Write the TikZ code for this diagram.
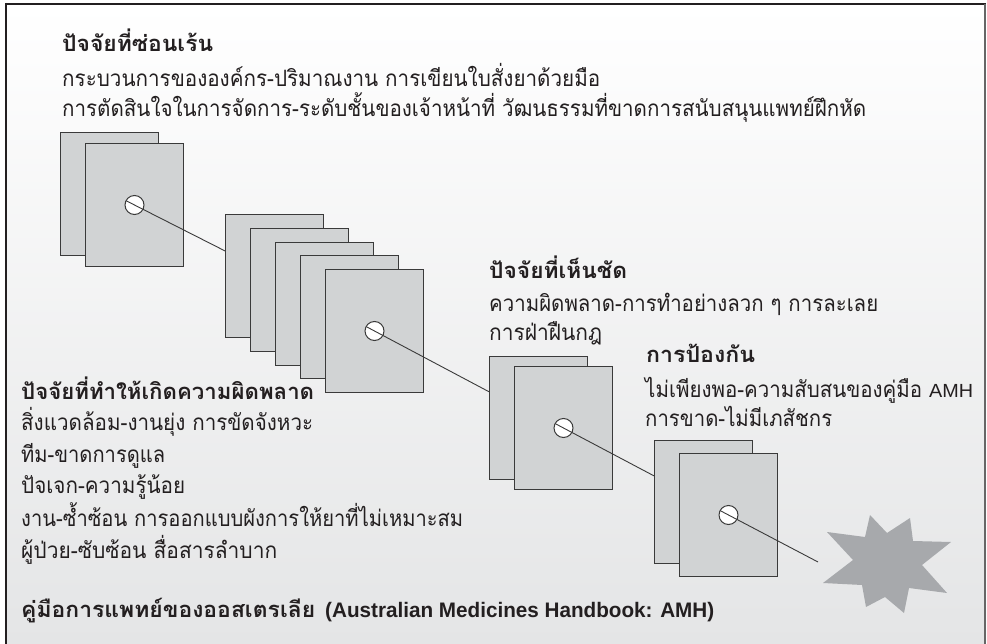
\documentclass[tikz,border=0pt]{standalone}
\usepackage{fontspec}
\usepackage{graphicx}
\setmainfont{Liberation Sans}
\newfontfamily\thai[Script=Thai]{Loma}
\usetikzlibrary{calc}
\definecolor{slicefill}{HTML}{D1D3D4}
\definecolor{sliceline}{HTML}{3A3A3A}
\definecolor{txt}{HTML}{231F20}
\definecolor{starfill}{HTML}{A7A9AC}
\definecolor{bgbottom}{HTML}{E4E5E6}
\newcommand{\fitw}[2]{\resizebox{#1pt}{\height}{#2}}
\tikzset{
  slice/.style={draw=sliceline, fill=slicefill, line width=1pt, minimum width=98pt, minimum height=123pt, inner sep=0pt, anchor=north west},
  hole/.style={circle, draw=sliceline, fill=white, line width=1pt, minimum size=19pt, inner sep=0pt},
  link/.style={draw=sliceline, line width=0.9pt},
  txtline/.style={anchor=base west, inner sep=0pt, text=txt, font=\thai\fontsize{22.5}{25}\selectfont},
  txthead/.style={anchor=base west, inner sep=0pt, text=txt, font=\thai\bfseries\fontsize{22}{25}\selectfont},
  latinline/.style={anchor=base west, inner sep=0pt, text=txt, font=\fontsize{19}{22}\selectfont},
  latinhead/.style={anchor=base west, inner sep=0pt, text=txt, font=\bfseries\fontsize{21}{25}\selectfont},
}
\begin{document}
\begin{tikzpicture}[x=1pt,y=-1pt]
\useasboundingbox (0,0) rectangle (987,644);
% background
\shade[top color=white, bottom color=bgbottom] (6,4) rectangle (986,644);
\draw[txt, line width=2.5pt] (5,4) -- (986,4);
\draw[txt, line width=2pt] (6,3) -- (6,650);
\draw[black!60, line width=1.5pt] (985,4) -- (985,650);

% group 1
\node[slice] (g1a) at (60,132) {};
\node[slice] (g1b) at (85,143) {};
\node[hole] (h1) at (g1b.center) {};
% group 2
\node[slice] (g2a) at (225,214) {};
\node[slice] (g2b) at (250,228) {};
\node[slice] (g2c) at (275,242) {};
\node[slice] (g2d) at (300,255) {};
\node[slice] (g2e) at (325,269) {};
\node[hole] (h2) at (g2e.center) {};
% group 3
\node[slice] (g3a) at (489,356) {};
\node[slice] (g3b) at (514,366) {};
\node[hole] (h3) at (g3b.center) {};
% group 4
\node[slice] (g4a) at (654,440) {};
\node[slice] (g4b) at (679,453) {};
\node[hole] (h4) at (g4b.center) {};
% star
\fill[starfill] (870,515) -- (887,533) -- (910,518) -- (913,541) -- (951,542) -- (922,565)
  -- (947,593) -- (909,588) -- (904,613) -- (885,597) -- (866,607) -- (862,585)
  -- (823,583) -- (853,560) -- (827,532) -- (865,537) -- cycle;
\coordinate (starlink) at (818,562);

% connectors
\draw[link] ($(h1.center)!-9.5pt!(g2a.center)$) -- (g2a);
\draw[link] ($(h2.center)!-9.5pt!(g3a.center)$) -- (g3a);
\draw[link] ($(h3.center)!-9.5pt!(g4a.center)$) -- (g4a);
\draw[link] ($(h4.center)!-9.5pt!(starlink)$) -- (starlink);

% texts
\node[txthead] (a0) at (62,52) {\fitw{151}{ปัจจัยที่ซ่อนเร้น}};
\node[txtline] (a1) at (62,87) {\fitw{538}{กระบวนการขององค์กร-ปริมาณงาน การเขียนใบสั่งยาด้วยมือ}};
\node[txtline] (a2) at (62,117) {\fitw{804}{การตัดสินใจในการจัดการ-ระดับชั้นของเจ้าหน้าที่ วัฒนธรรมที่ขาดการสนับสนุนแพทย์ฝึกหัด}};

\node[txthead] (b0) at (489,278) {\fitw{138}{ปัจจัยที่เห็นชัด}};
\node[txtline] (b1) at (489,311) {\fitw{389}{ความผิดพลาด-การทำอย่างลวก ๆ การละเลย}};
\node[txtline] (b2) at (489,340) {\fitw{113}{การฝ่าฝืนกฎ}};

\node[txthead] (c0) at (646,362) {\fitw{109}{การป้องกัน}};
\node[txtline] (c1) at (645,397) {\fitw{277}{ไม่เพียงพอ-ความสับสนของคู่มือ}};
\node[latinline] (c1b) at (929,397) {\fitw{44}{AMH}};
\node[txtline] (c2) at (645,426) {\fitw{187}{การขาด-ไม่มีเภสัชกร}};

\node[txthead] (d0) at (21,399) {\fitw{293}{ปัจจัยที่ทำให้เกิดความผิดพลาด}};
\node[txtline] (d1) at (21,430) {\fitw{292}{สิ่งแวดล้อม-งานยุ่ง การขัดจังหวะ}};
\node[txtline] (d2) at (21,462) {\fitw{144}{ทีม-ขาดการดูแล}};
\node[txtline] (d3) at (21,493) {\fitw{164}{ปัจเจก-ความรู้น้อย}};
\node[txtline] (d4) at (21,526) {\fitw{442}{งาน-ซ้ำซ้อน การออกแบบผังการให้ยาที่ไม่เหมาะสม}};
\node[txtline] (d5) at (21,558) {\fitw{256}{ผู้ป่วย-ซับซ้อน สื่อสารลำบาก}};

\node[txthead] (e0) at (21,617) {\fitw{294}{คู่มือการแพทย์ของออสเตรเลีย}};
\node[latinhead] (e1) at (325,617) {\fitw{389}{(Australian Medicines Handbook: AMH)}};
\end{tikzpicture}
\end{document}
